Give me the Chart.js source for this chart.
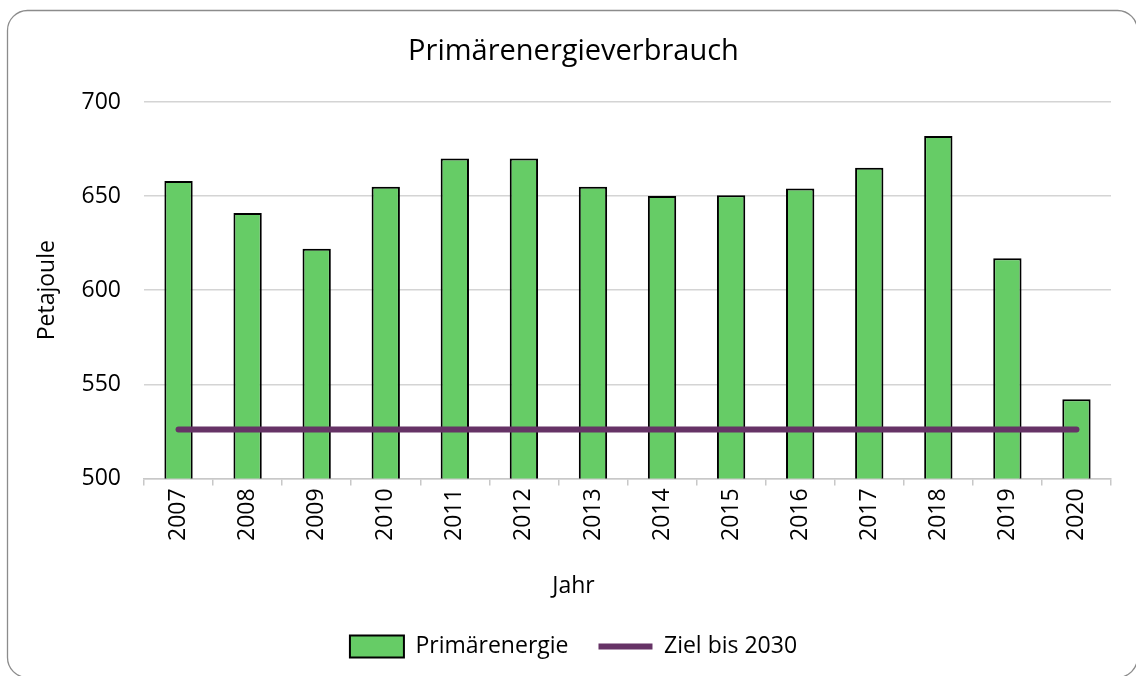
<!DOCTYPE html>
<html>
<head>
<meta charset="utf-8">
<script src="https://cdn.jsdelivr.net/npm/chart.js@4/dist/chart.umd.min.js"></script>
<style>
  html, body { margin: 0; padding: 0; background: #ffffff; }
  #wrap { width: 1136px; height: 676px; position: relative; }
</style>
</head>
<body>
<div id="wrap"><canvas id="c" width="1136" height="676"></canvas></div>
<script>
const years = ['2007','2008','2009','2010','2011','2012','2013','2014','2015','2016','2017','2018','2019','2020'];
const primaerenergie = [658, 641, 622, 655, 670, 670, 655, 650, 650.5, 654, 665, 682, 617, 542];
const zielBis2030 = [526, 526, 526, 526, 526, 526, 526, 526, 526, 526, 526, 526, 526, 526];
const yMin = 500, yMax = 700, yStep = 50;

const FONT = "'Open Sans', sans-serif";
Chart.defaults.font.family = FONT;
Chart.defaults.color = '#000000';

const framePlugin = {
  id: 'frame',
  beforeDraw(chart) {
    const ctx = chart.ctx;
    ctx.save();
    ctx.fillStyle = '#ffffff';
    ctx.fillRect(0, 0, chart.width, chart.height);
    const x = 7.5, y = 10.5, w = 1130, h = 667, r = 20;
    ctx.beginPath();
    ctx.moveTo(x + r, y);
    ctx.lineTo(x + w - r, y);
    ctx.arcTo(x + w, y, x + w, y + r, r);
    ctx.lineTo(x + w, y + h - r);
    ctx.arcTo(x + w, y + h, x + w - r, y + h, r);
    ctx.lineTo(x + r, y + h);
    ctx.arcTo(x, y + h, x, y + h - r, r);
    ctx.lineTo(x, y + r);
    ctx.arcTo(x, y, x + r, y, r);
    ctx.closePath();
    ctx.strokeStyle = '#8c8c8c';
    ctx.lineWidth = 1.3;
    ctx.stroke();
    ctx.restore();
  }
};

new Chart(document.getElementById('c'), {
  data: {
    labels: years,
    datasets: [
      {
        type: 'bar',
        label: 'Primärenergie',
        data: primaerenergie,
        backgroundColor: '#66CC66',
        borderColor: '#000000',
        borderWidth: 2,
        categoryPercentage: 1.0,
        barPercentage: 0.41,
        pointStyle: 'rect',
        order: 2
      },
      {
        type: 'line',
        label: 'Ziel bis 2030',
        data: zielBis2030,
        borderColor: '#663366',
        backgroundColor: '#663366',
        borderWidth: 6,
        borderCapStyle: 'round',
        pointRadius: 0,
        pointHoverRadius: 0,
        pointStyle: 'line',
        fill: false,
        order: 1
      }
    ]
  },
  options: {
    responsive: false,
    animation: false,
    events: [],
    layout: { padding: { top: 15, left: 36, right: 25, bottom: 8 } },
    plugins: {
      title: {
        display: true,
        text: 'Primärenergieverbrauch',
        font: { family: FONT, size: 29, weight: 'normal' },
        color: '#000000',
        padding: { top: 19.6, bottom: 32.6 }
      },
      subtitle: {
        display: true,
        position: 'bottom',
        weight: 500,
        text: 'Jahr',
        font: { family: FONT, size: 23, weight: 'normal' },
        color: '#000000',
        padding: { top: 24, bottom: 5 }
      },
      legend: {
        display: true,
        position: 'bottom',
        labels: {
          usePointStyle: true,
          pointStyleWidth: 54,
          boxHeight: 22,
          padding: 30,
          font: { family: FONT, size: 23 },
          color: '#000000',
          sort: (a, b) => a.datasetIndex - b.datasetIndex
        }
      },
      tooltip: { enabled: false }
    },
    scales: {
      x: {
        type: 'category',
        offset: true,
        grid: {
          display: true,
          offset: true,
          drawOnChartArea: false,
          drawTicks: true,
          tickLength: 7,
          color: '#c8c8c8',
          lineWidth: 1.5
        },
        border: { display: true, color: '#c8c8c8', width: 1.5 },
        ticks: {
          autoSkip: false,
          minRotation: 90,
          maxRotation: 90,
          padding: 3,
          font: { family: FONT, size: 23 },
          color: '#000000'
        },
        title: { display: false },
        afterFit(scale) { scale.height = 70; }
      },
      y: {
        min: yMin,
        max: yMax,
        grid: {
          color: '#d4d4d4',
          lineWidth: 1.5,
          drawTicks: false
        },
        border: { display: false },
        ticks: {
          stepSize: yStep,
          padding: 23,
          font: { family: FONT, size: 23 },
          color: '#000000'
        },
        title: {
          display: true,
          text: 'Petajoule',
          font: { family: FONT, size: 23 },
          color: '#000000',
          padding: { top: -2, bottom: 0 }
        },
        afterFit(scale) { scale.width = 108; }
      }
    }
  },
  plugins: [framePlugin]
});
</script>
</body>
</html>
